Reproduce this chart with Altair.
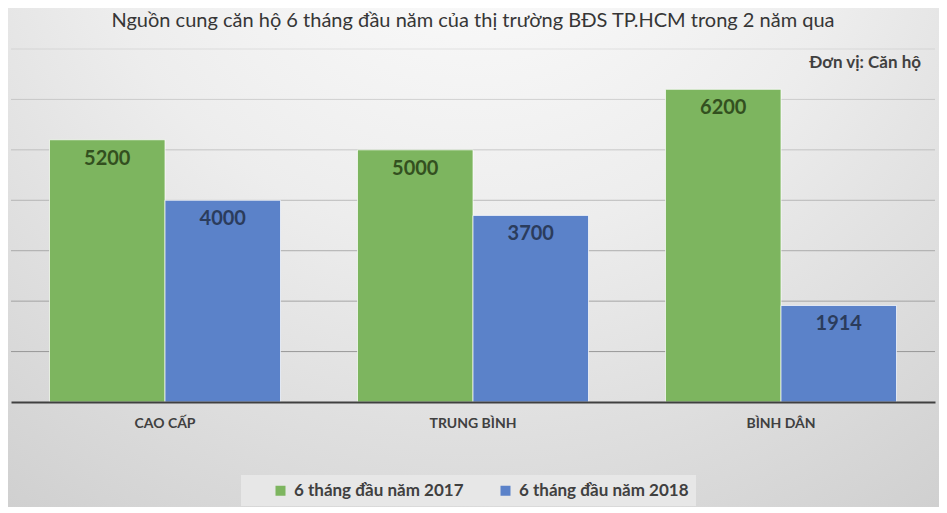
import altair as alt
import pandas as pd

categories = ["CAO CẤP", "TRUNG BÌNH", "BÌNH DÂN"]
series = ["6 tháng đầu năm 2017", "6 tháng đầu năm 2018"]
values_2017 = [5200, 5000, 6200]
values_2018 = [4000, 3700, 1914]
grid_values = [1000, 2000, 3000, 4000, 5000, 6000, 7000]

title_text = "Nguồn cung căn hộ 6 tháng đầu năm của thị trường BĐS TP.HCM trong 2 năm qua"
unit_text = "Đơn vị: Căn hộ"

rows = []
for i, c in enumerate(categories):
    rows.append({"category": c, "series": series[0], "value": values_2017[i]})
    rows.append({"category": c, "series": series[1], "value": values_2018[i]})
df = pd.DataFrame(rows)
grid_df = pd.DataFrame({"v": grid_values})
bg_df = pd.DataFrame({"a": [0]})
unit_df = pd.DataFrame({"t": [unit_text]})
title_df = pd.DataFrame({"t": [title_text]})

W, H = 924, 353
FONT = "Lato"

y_scale = alt.Scale(domain=[0, 7000], nice=False, zero=True)
x_axis = alt.Axis(
    title=None, labelFont=FONT, labelFontSize=14, labelFontWeight="bold", labelColor="#404040",
    labelAngle=0, ticks=False, labelPadding=14, domainColor="#404040", domainWidth=2,
    grid=False, zindex=2,
)
x_enc = alt.X("category:N", sort=categories, title=None, axis=x_axis,
              scale=alt.Scale(paddingInner=0.25, paddingOuter=0.125))

bg = alt.Chart(bg_df).mark_rect(
    fill={
        "gradient": "radial",
        "x1": 0.5, "y1": 0.05, "r1": 0,
        "x2": 0.5, "y2": 0.05, "r2": 0.95,
        "stops": [
            {"offset": 0, "color": "#ffffff"},
            {"offset": 0.45, "color": "#ededed"},
            {"offset": 1, "color": "#cbcbcb"},
        ],
    }
).encode(x=alt.value(-3), x2=alt.value(W + 4), y=alt.value(-41), y2=alt.value(H + 105))

grid = alt.Chart(grid_df).mark_rule(color="#8c8c8c", strokeWidth=1).encode(
    y=alt.Y("v:Q", scale=y_scale, axis=None),
    opacity=alt.Opacity("v:Q", scale=alt.Scale(domain=[1000, 7000], range=[0.85, 0.2]), legend=None),
)

bars = alt.Chart(df).mark_bar(stroke="#ffffff", strokeWidth=1, strokeOpacity=0.7).encode(
    x=x_enc,
    xOffset=alt.XOffset("series:N", sort=series),
    y=alt.Y("value:Q", scale=y_scale, axis=None),
    fill=alt.Fill("series:N", sort=series,
                  scale=alt.Scale(domain=series, range=["#7db55f", "#5b82c9"]),
                  legend=alt.Legend(
                      title=None, orient="none", direction="horizontal",
                      legendX=230, legendY=426,
                      fillColor="#e7e7e7", padding=7,
                      symbolType="square", symbolSize=100, symbolStrokeWidth=0,
                      symbolOffset=24, columnPadding=9, labelOffset=5,
                      labelFont=FONT, labelFontSize=17, labelFontWeight="bold",
                      labelColor="#404040", labelLimit=400,
                  )),
)

labels = alt.Chart(df).mark_text(
    baseline="middle", dy=19, font=FONT, fontSize=20, fontWeight="bold"
).encode(
    x=x_enc,
    xOffset=alt.XOffset("series:N", sort=series),
    y=alt.Y("value:Q", scale=y_scale, axis=None),
    text=alt.Text("value:Q", format="d"),
    color=alt.condition(f"datum.series == '{series[0]}'", alt.value("#33501f"), alt.value("#2b3c5c")),
)

unit = alt.Chart(unit_df).mark_text(
    align="right", baseline="middle", font=FONT, fontSize=17, fontWeight="bold", color="#404040"
).encode(text="t:N", x=alt.value(910), y=alt.value(14))

title = alt.Chart(title_df).mark_text(
    align="center", baseline="middle", font=FONT, fontSize=20, fontWeight="normal", color="#363636"
).encode(text="t:N", x=alt.value(W / 2), y=alt.value(-28))

chart = alt.layer(bg, grid, bars, labels, unit, title).properties(
    width=W, height=H,
    autosize=alt.AutoSizeParams(type="none"),
    padding={"left": 3, "top": 41, "right": 4, "bottom": 105},
).configure_view(stroke=None).configure(background="#dcdcdc")

chart.save("out.html", embed_options={"renderer": "svg", "actions": False})
